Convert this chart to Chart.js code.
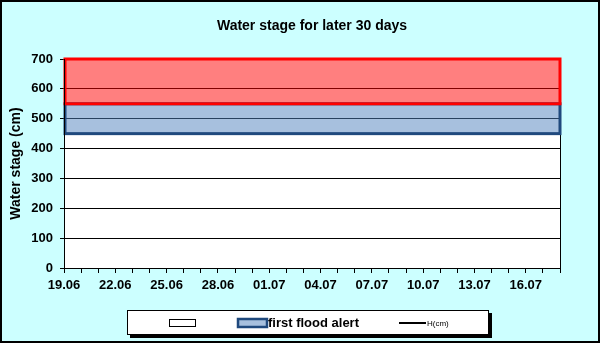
<!DOCTYPE html>
<html lang="en">
<head>
    <meta charset="UTF-8">
    <title>Water stage for later 30 days</title>
    <style>
        html, body { margin: 0; padding: 0; background: #CCFFFF; }
        canvas { display: block; }
    </style>
</head>
<body>
    <canvas id="waterStageChart" width="600" height="343"></canvas>

    <script src="https://cdn.jsdelivr.net/npm/chart.js"></script>
    <script>
        // days shown on the x axis (19.06 .. 18.07)
        const days = ['19.06', '20.06', '21.06', '22.06', '23.06', '24.06', '25.06', '26.06', '27.06', '28.06',
                      '29.06', '30.06', '01.07', '02.07', '03.07', '04.07', '05.07', '06.07', '07.07', '08.07',
                      '09.07', '10.07', '11.07', '12.07', '13.07', '14.07', '15.07', '16.07', '17.07', '18.07'];

        // measured water stage H(cm) - no readings in the picture
        const waterStage = [];

        // alert bands [from, to] in cm
        const firstAlert = [450, 550];
        const secondAlert = [550, 700];

        const legendLabels = ['', 'first flood alert', 'H(cm)'];

        const yTicks = { min: 0, max: 700, step: 100 };

        const blueFill = 'rgba(79, 129, 189, 0.5)';
        const blueLine = '#1F497D';
        const redFill = 'rgba(255, 0, 0, 0.5)';
        const redLine = '#FF0000';
        const font = 'Liberation Sans, Arial, sans-serif';


        const framePlugin = {
            id: 'frame',
            beforeDraw(chart) {
                const ctx = chart.ctx;
                const a = chart.chartArea;
                ctx.save();
                ctx.fillStyle = '#CCFFFF';
                ctx.fillRect(0, 0, chart.width, chart.height);
                ctx.fillStyle = '#FFFFFF';
                ctx.fillRect(a.left, a.top, a.right - a.left, a.bottom - a.top);
                ctx.restore();
            },
            afterDatasetsDraw(chart) {
                const ctx = chart.ctx;
                const a = chart.chartArea;
                const y = chart.scales.y;
                ctx.save();
                // right edge of the plot
                ctx.strokeStyle = '#000';
                ctx.lineWidth = 1;
                ctx.beginPath();
                ctx.moveTo(Math.round(a.right) + 0.5, a.top);
                ctx.lineTo(Math.round(a.right) + 0.5, a.bottom);
                ctx.stroke();

                // band outlines
                const b1 = y.getPixelForValue(firstAlert[1]), b0 = y.getPixelForValue(firstAlert[0]);
                ctx.strokeStyle = blueLine;
                ctx.lineWidth = 3;
                ctx.strokeRect(a.left + 1, b1, a.right - a.left - 1, b0 - b1);

                const r1 = y.getPixelForValue(secondAlert[1]), r0 = y.getPixelForValue(secondAlert[0]);
                ctx.strokeStyle = redLine;
                ctx.strokeRect(a.left + 1, r1, a.right - a.left - 1, r0 - r1);

                // left axis line on top
                ctx.strokeStyle = '#000';
                ctx.lineWidth = 1;
                ctx.beginPath();
                ctx.moveTo(Math.round(a.left) + 0.5, a.top);
                ctx.lineTo(Math.round(a.left) + 0.5, a.bottom);
                ctx.stroke();
                ctx.restore();
            },
            afterDraw(chart) {
                const ctx = chart.ctx;
                ctx.save();
                // legend box with shadow
                ctx.fillStyle = '#000';
                ctx.fillRect(130, 313, 362, 25);
                ctx.fillStyle = '#FFF';
                ctx.fillRect(127, 310, 362, 25);
                ctx.strokeStyle = '#000';
                ctx.lineWidth = 1;
                ctx.strokeRect(127.5, 310.5, 361, 24);

                // item 1: empty box
                ctx.strokeRect(169.5, 319.5, 26, 7);

                // item 2: first flood alert
                ctx.fillStyle = blueFill;
                ctx.fillRect(238, 319, 29, 8);
                ctx.strokeStyle = blueLine;
                ctx.lineWidth = 2.5;
                ctx.strokeRect(238, 319, 29, 8);
                ctx.fillStyle = '#000';
                ctx.font = 'bold 13px ' + font;
                ctx.textBaseline = 'middle';
                ctx.fillText(legendLabels[1], 268, 323);

                // item 3: H(cm) line
                ctx.strokeStyle = '#000';
                ctx.lineWidth = 2;
                ctx.beginPath();
                ctx.moveTo(399, 323);
                ctx.lineTo(426, 323);
                ctx.stroke();
                ctx.font = '8px ' + font;
                ctx.fillText(legendLabels[2], 427, 323.5);

                // outer border
                ctx.lineWidth = 2;
                ctx.strokeRect(1, 1, chart.width - 2, chart.height - 2);
                ctx.restore();
            }
        };


        const data = {
            labels: days,
            datasets: [
                {
                    label: legendLabels[2],
                    data: waterStage,
                    borderColor: '#000',
                    borderWidth: 2,
                    pointRadius: 0
                },
                {
                    label: legendLabels[1],
                    data: days.map(() => firstAlert[1]),
                    backgroundColor: blueFill,
                    borderWidth: 0,
                    pointRadius: 0,
                    fill: { value: firstAlert[0] }
                },
                {
                    label: legendLabels[0],
                    data: days.map(() => secondAlert[1]),
                    backgroundColor: redFill,
                    borderWidth: 0,
                    pointRadius: 0,
                    fill: { value: secondAlert[0] }
                }
            ]
        };


        const config = {
            type: 'line',
            data: data,
            plugins: [framePlugin],
            options: {
                responsive: false,
                animation: false,
                layout: {
                    padding: { left: 0, right: 40, top: 0, bottom: 45 }
                },
                plugins: {
                    legend: { display: false },
                    tooltip: { enabled: false },
                    title: {
                        display: true,
                        fullSize: false,
                        text: 'Water stage for later 30 days',
                        color: '#000',
                        font: { family: font, size: 14, weight: 'bold' },
                        padding: { top: 18, bottom: 24.2 }
                    }
                },
                scales: {
                    x: {
                        type: 'category',
                        offset: false,
                        afterFit(scale) { scale.height = 30; },
                        grid: {
                            drawOnChartArea: false,
                            drawTicks: true,
                            tickLength: 5,
                            color: '#000'
                        },
                        border: { color: '#000', width: 1 },
                        ticks: {
                            autoSkip: false,
                            maxRotation: 0,
                            minRotation: 0,
                            padding: 5,
                            color: '#000',
                            font: { family: font, size: 13, weight: 'bold' },
                            callback: (v, i) => (i % 3 === 0 ? days[i] : '')
                        }
                    },
                    y: {
                        min: yTicks.min,
                        max: yTicks.max,
                        afterFit(scale) { scale.width = 64; },
                        grid: {
                            color: '#000',
                            lineWidth: 1,
                            tickLength: 4
                        },
                        border: { color: '#000', width: 1 },
                        ticks: {
                            stepSize: yTicks.step,
                            padding: 7,
                            color: '#000',
                            font: { family: font, size: 13, weight: 'bold' }
                        },
                        title: {
                            display: true,
                            text: 'Water stage (cm)',
                            color: '#000',
                            font: { family: font, size: 14, weight: 'bold' },
                            padding: { top: 7.5, bottom: 0 }
                        }
                    }
                }
            }
        };


        const waterStageChart = new Chart(
            document.getElementById('waterStageChart'),
            config
        );
    </script>
</body>
</html>
